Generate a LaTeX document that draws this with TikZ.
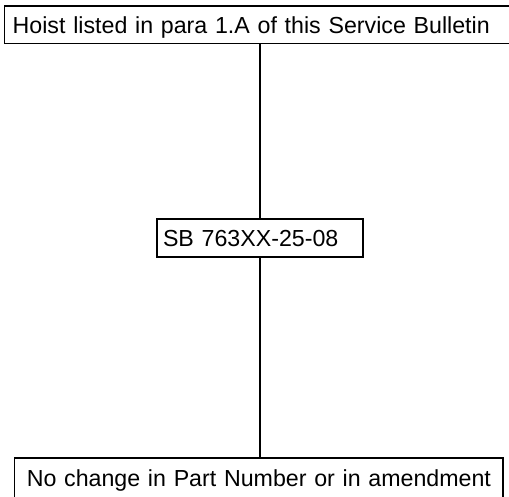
\documentclass[tikz,border=0pt]{standalone}
\usepackage{fontspec}
\setmainfont{Liberation Sans}
\begin{document}
\begin{tikzpicture}[x=1bp,y=-1bp,
  box/.style={draw, line width=1.4bp, font=\fontsize{23.2bp}{27bp}\selectfont,
    align=left, inner ysep=0pt, text height=17bp, text depth=0bp},
  link/.style={line width=1.6bp}]
\useasboundingbox (0,0) rectangle (509,497);
\clip (0,0) rectangle (509,497);
\fill[white] (0,0) rectangle (509,497);
\node[box, text width=494.6bp, inner xsep=8bp, minimum height=37.8bp] (top) at (260,24.8)
  {Hoist listed in para 1.A of this Service Bulletin};
\node[box, text width=194bp, inner xsep=6bp, minimum height=38bp] (mid) at (260,238)
  {SB 763XX-25-08};
\node[box, text width=464bp, inner xsep=12bp, minimum height=42pt, text depth=1.7bp] (bot) at (258.8,478.85)
  {\mbox{No change in Part Number or in amendment}};
\draw[link] (top.south) -- (mid.north);
\draw[link] (mid.south) -- (mid.south |- bot.north);
\end{tikzpicture}
\end{document}
